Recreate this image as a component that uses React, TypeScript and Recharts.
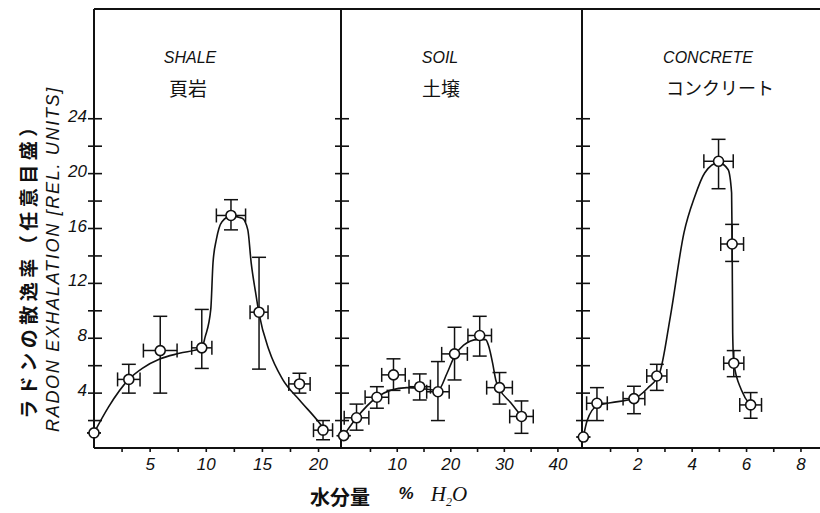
import React from "react";
import { ComposedChart, Line, Scatter, XAxis, YAxis, ErrorBar, ReferenceLine } from "recharts";

const INK = "#111";

// y axis: radon exhalation (rel. units)
const yTicks = [2, 4, 6, 8, 10, 12, 14, 16, 18, 20, 22, 24];
const yTickLabels = [4, 8, 12, 16, 20, 24];

// x axes: water content (% H2O)
const shaleTicks = [2.5, 5, 7.5, 10, 12.5, 15, 17.5, 20];
const shaleTickLabels = [5, 10, 15, 20];
const soilTicks = [5, 10, 15, 20, 25, 30, 35, 40];
const soilTickLabels = [10, 20, 30, 40];
const concreteTicks = [1, 2, 3, 4, 5, 6, 7, 8];
const concreteTickLabels = [2, 4, 6, 8];

// SHALE measurements
const shaleMoisture = [0, 3.1, 5.9, 9.6, 12.2, 14.7, 18.3, 20.4];
const shaleExhalation = [1.1, 5.0, 7.1, 7.3, 16.95, 9.9, 4.67, 1.3];
const shaleMoistureErr = [0, 1.0, 1.5, 0.9, 1.3, 0.8, 0.95, 0.85];
const shaleExhalationErr = [[0, 0], [1.0, 1.1], [3.1, 2.5], [1.5, 2.8], [1.05, 1.15], [4.15, 4.0], [0.67, 0.78], [0.7, 0.7]];
// SHALE fitted curve
const shaleCurveX = [0, 1.3, 3.1, 4.3, 5.9, 7.6, 9.6, 9.9, 10.4, 10.6, 10.9, 11.4, 12.2, 13.2, 13.7, 14.0, 14.4, 14.7, 15.6, 16.8, 18.3, 20.1, 20.5];
const shaleCurveY = [1.1, 3.0, 5.0, 5.8, 6.5, 6.9, 7.3, 8.1, 10.1, 13.5, 15.2, 16.5, 16.9, 16.75, 15.9, 13.5, 11.3, 9.8, 7.1, 5.0, 3.5, 1.8, 1.35];

// SOIL measurements
const soilMoisture = [0, 2.4, 6.2, 9.3, 14.2, 17.6, 20.7, 25.4, 29.1, 33.2];
const soilExhalation = [0.9, 2.2, 3.7, 5.33, 4.47, 4.1, 6.86, 8.2, 4.4, 2.3];
const soilMoistureErr = [0, 2.3, 2.2, 2.2, 2.0, 2.1, 2.4, 2.2, 2.4, 2.2];
const soilExhalationErr = [[0, 0], [0.9, 1.0], [0.8, 0.77], [1.13, 1.17], [0.97, 0.93], [2.1, 2.2], [1.9, 1.94], [1.5, 1.4], [1.2, 1.1], [1.23, 1.13]];
const soilCurveX = [0, 2.4, 6.2, 8.7, 11.8, 15.6, 17.6, 19.3, 20.7, 22.4, 25.0, 26.5, 27.1, 27.8, 28.4, 29.1, 31.2, 33.2];
const soilCurveY = [0.9, 2.2, 3.7, 4.2, 4.4, 4.28, 4.2, 5.45, 6.7, 7.5, 7.9, 7.9, 7.4, 6.2, 4.96, 4.3, 3.3, 2.3];

// CONCRETE measurements
const concreteMoisture = [0, 0.5, 1.86, 2.7, 4.97, 5.47, 5.53, 6.15];
const concreteExhalation = [0.8, 3.26, 3.6, 5.25, 20.9, 14.87, 6.18, 3.14];
const concreteMoistureErr = [0, 0.38, 0.4, 0.37, 0.54, 0.42, 0.37, 0.4];
const concreteExhalationErr = [[0, 0], [1.26, 1.14], [1.1, 0.9], [1.05, 0.85], [2.0, 1.6], [1.27, 1.43], [0.98, 0.92], [0.97, 0.9]];
const concreteCurveX = [0, 0.14, 0.5, 1.0, 1.86, 2.36, 2.8, 3.2, 3.7, 4.09, 4.46, 4.97, 5.32, 5.45, 5.47, 5.49, 5.53, 5.81, 6.15];
const concreteCurveY = [0.8, 2.0, 3.07, 3.3, 3.6, 4.36, 5.45, 9.6, 15.7, 18.3, 20.05, 20.8, 20.3, 18.6, 14.9, 8.4, 6.2, 4.23, 3.1];

const toPoints = (xs: number[], ys: number[], exs: number[], eys: number[][]) =>
  xs.map((x, i) => ({ x, y: ys[i], ex: exs[i], ey: eys[i] }));
const toCurve = (xs: number[], ys: number[]) => xs.map((x, i) => ({ x, y: ys[i] }));

const SANS = "'Liberation Sans', Arial, sans-serif";
const CJK = "'Noto Sans CJK JP', sans-serif";

const Ring = (p: any) => <circle cx={p.cx} cy={p.cy} r={5} fill="#fff" stroke={INK} strokeWidth={1.6} />;

function Panel({ left, width, axisWidth, domain, ticks, tickLabels, showYLabels, points, curve }: any) {
  const xTick = (p: any) => (
    <g>
      <line x1={p.x} x2={p.x} y1={p.y} y2={p.y + 4} stroke={INK} strokeWidth={1.6} />
      {tickLabels.includes(p.payload.value) && (
        <text x={p.x} y={p.y + 22} textAnchor="middle" fontSize={17} fontStyle="italic" fontFamily={SANS} fill={INK}>
          {p.payload.value}
        </text>
      )}
    </g>
  );
  const yTick = (p: any) => (
    <g>
      <line x1={p.x - 6} x2={p.x + 8} y1={p.y} y2={p.y} stroke={INK} strokeWidth={1.6} />
      {showYLabels && yTickLabels.includes(p.payload.value) && (
        <text x={p.x - 7} y={p.y + 3} textAnchor="end" fontSize={17} fontStyle="italic" fontFamily={SANS} fill={INK}>
          {p.payload.value}
        </text>
      )}
    </g>
  );
  return (
    <div style={{ position: "absolute", left, top: 0 }}>
      <ComposedChart width={width} height={483} margin={{ top: 9, right: 0, bottom: 0, left: 0 }}>
        <XAxis
          type="number"
          dataKey="x"
          domain={domain}
          ticks={ticks}
          interval={0}
          height={35}
          tickSize={0}
          tickMargin={0}
          tickLine={false}
          axisLine={{ stroke: INK, strokeWidth: 2 }}
          tick={xTick}
        />
        <YAxis
          type="number"
          dataKey="y"
          domain={[0, 32]}
          ticks={yTicks}
          interval={0}
          width={axisWidth}
          tickSize={0}
          tickMargin={0}
          tickLine={false}
          axisLine={{ stroke: INK, strokeWidth: 2 }}
          tick={yTick}
        />
        <ReferenceLine y={32} stroke={INK} strokeWidth={2} />
        <Line data={curve} dataKey="y" type="monotone" stroke={INK} strokeWidth={1.6} dot={false} isAnimationActive={false} />
        <Scatter data={points} dataKey="y" shape={Ring} isAnimationActive={false}>
          <ErrorBar dataKey="ey" direction="y" width={7} stroke={INK} strokeWidth={1.5} />
          <ErrorBar dataKey="ex" direction="x" width={7} stroke={INK} strokeWidth={1.5} />
        </Scatter>
      </ComposedChart>
    </div>
  );
}

const Label = ({ x, y, style, children }: any) => (
  <div style={{ position: "absolute", left: x, top: y, transform: "translate(-50%, -50%)", whiteSpace: "nowrap", color: INK, ...style }}>
    {children}
  </div>
);

export default function App() {
  const title = { fontFamily: SANS, fontStyle: "italic", fontSize: 16 };
  const cjk = { fontFamily: CJK, fontSize: 19 };
  return (
    <div style={{ position: "absolute", left: 0, top: 0, width: 820, height: 513, background: "#fff", overflow: "hidden" }}>
      <Panel
        left={0}
        width={341}
        axisWidth={94}
        domain={[0, 22]}
        ticks={shaleTicks}
        tickLabels={shaleTickLabels}
        showYLabels
        points={toPoints(shaleMoisture, shaleExhalation, shaleMoistureErr, shaleExhalationErr)}
        curve={toCurve(shaleCurveX, shaleCurveY)}
      />
      <Panel
        left={331}
        width={251}
        axisWidth={10}
        domain={[-0.5, 44.5]}
        ticks={soilTicks}
        tickLabels={soilTickLabels}
        showYLabels={false}
        points={toPoints(soilMoisture, soilExhalation, soilMoistureErr, soilExhalationErr)}
        curve={toCurve(soilCurveX, soilCurveY)}
      />
      <Panel
        left={572}
        width={248}
        axisWidth={10}
        domain={[-0.05, 8.7]}
        ticks={concreteTicks}
        tickLabels={concreteTickLabels}
        showYLabels={false}
        points={toPoints(concreteMoisture, concreteExhalation, concreteMoistureErr, concreteExhalationErr)}
        curve={toCurve(concreteCurveX, concreteCurveY)}
      />

      <Label x={190} y={58} style={title}>SHALE</Label>
      <Label x={188} y={87} style={cjk}>頁岩</Label>
      <Label x={440} y={58} style={title}>SOIL</Label>
      <Label x={441} y={87} style={cjk}>土壌</Label>
      <Label x={708} y={58} style={title}>CONCRETE</Label>
      <Label x={720} y={87} style={{ ...cjk, fontSize: 18 }}>コンクリート</Label>

      <Label x={27} y={266} style={{ fontFamily: CJK, fontSize: 19, fontWeight: 700, letterSpacing: 4.5, transform: "translate(-50%, -50%) rotate(-90deg)" }}>
        ラドンの散逸率（任意目盛）
      </Label>
      <Label x={53} y={259} style={{ fontFamily: SANS, fontStyle: "italic", fontSize: 18, letterSpacing: 1.7, transform: "translate(-50%, -50%) rotate(-90deg)" }}>
        RADON EXHALATION [REL. UNITS]
      </Label>

      <Label x={340} y={496} style={{ fontFamily: CJK, fontSize: 20, fontWeight: 700 }}>水分量</Label>
      <Label x={406} y={494} style={{ fontFamily: SANS, fontSize: 17, fontWeight: 700, fontStyle: "italic" }}>%</Label>
      <Label x={449} y={496} style={{ fontFamily: "'Liberation Serif', serif", fontSize: 21, fontStyle: "italic" }}>
        H<sub style={{ fontSize: 12 }}>2</sub>O
      </Label>
    </div>
  );
}
